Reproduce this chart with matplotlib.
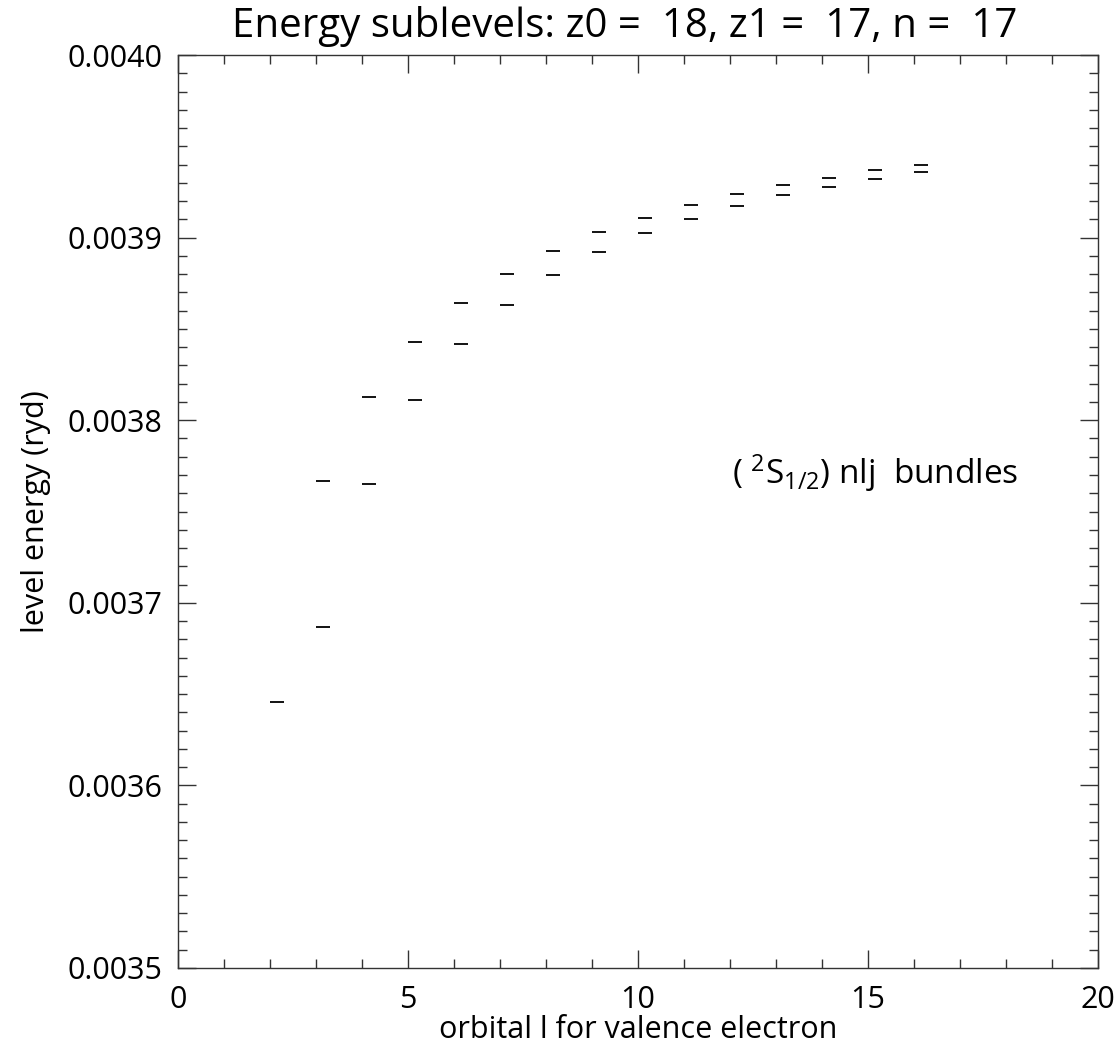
import matplotlib
matplotlib.use("Agg")
import matplotlib.pyplot as plt
from matplotlib.ticker import MultipleLocator, FormatStrFormatter
import numpy as np

plt.rcParams['font.family'] = ['Open Sans', 'DejaVu Sans']
plt.rcParams['mathtext.fontset'] = 'custom'
plt.rcParams['mathtext.rm'] = 'Open Sans'
plt.rcParams['mathtext.it'] = 'Open Sans'

# orbital l values and the sub-level energies (ryd), upper and lower (j = l +/- 1/2)
l_upper = [2, 3, 4, 5, 6, 7, 8, 9, 10, 11, 12, 13, 14, 15, 16]
e_upper = [0.0036457, 0.0037669, 0.0038129, 0.0038426, 0.0038640, 0.0038802,
           0.0038927, 0.0039029, 0.0039106, 0.0039180, 0.0039239, 0.0039288,
           0.0039328, 0.0039368, 0.0039398]
l_lower = [3, 4, 5, 6, 7, 8, 9, 10, 11, 12, 13, 14, 15, 16]
e_lower = [0.0036868, 0.0037651, 0.0038109, 0.0038416, 0.0038631, 0.0038793,
           0.0038921, 0.0039023, 0.0039104, 0.0039171, 0.0039232, 0.0039279,
           0.0039323, 0.0039361]

title = "Energy sublevels: z0 =  18, z1 =  17, n =  17"
xlabel = "orbital l for valence electron"
ylabel = "level energy (ryd)"

dash_w = 0.3

fig = plt.figure(figsize=(11.18, 10.5), dpi=100)
ax = fig.add_axes([0.1592, 0.0781, 0.8229, 0.8695])

ax.hlines(e_upper, np.array(l_upper), np.array(l_upper) + dash_w, colors='black', lw=1.3)
ax.hlines(e_lower, np.array(l_lower), np.array(l_lower) + dash_w, colors='black', lw=1.3)

ax.set_xlim(0, 20)
ax.set_ylim(0.0035, 0.0040)
ax.xaxis.set_major_locator(MultipleLocator(5))
ax.xaxis.set_minor_locator(MultipleLocator(1))
ax.yaxis.set_major_locator(MultipleLocator(0.0001))
ax.yaxis.set_minor_locator(MultipleLocator(0.00001))
ax.yaxis.set_major_formatter(FormatStrFormatter('%.4f'))

ax.tick_params(which='both', direction='in', top=True, right=True, color='#333333', width=1.0)
ax.tick_params(which='major', length=13, labelsize=22, pad=11)
ax.tick_params(which='minor', length=6.5)
ax.tick_params(axis='x', which='major', pad=12)
for s in ax.spines.values():
    s.set_color('#333333')
    s.set_linewidth(1.0)

ax.set_title(title, fontsize=29, pad=13, x=0.486)
ax.set_xlabel(xlabel, fontsize=22, labelpad=0)
ax.set_ylabel(ylabel, fontsize=22, labelpad=12)

ax.text(12.05, 0.003771, r"( $^{2}$S$_{1/2}$) nlj  bundles", fontsize=24, va='center', ha='left')

fig.savefig("out.png", dpi=100)
